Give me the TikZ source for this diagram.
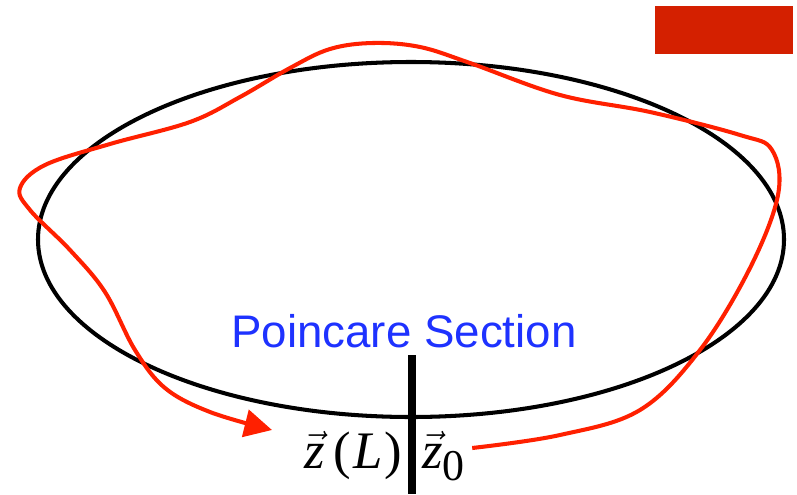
\documentclass[tikz,border=0pt]{standalone}
\usepackage{amsmath,amssymb}
\usepackage{fontspec}
\setmainfont{Liberation Serif}
\setsansfont{Liberation Sans}
\usetikzlibrary{arrows.meta, positioning, calc}
\definecolor{orbitred}{RGB}{255,32,0}
\definecolor{boxred}{RGB}{212,32,0}
\definecolor{labelblue}{RGB}{30,50,255}

\begin{document}
\begin{tikzpicture}[
    x=0.02cm, y=-0.02cm,
    cycle/.style={draw=black, line width=2.3pt},
    orbit/.style={draw=orbitred, line width=2.3pt, -{Triangle[length=0.55cm,width=0.55cm]}},
    section/.style={draw=black, line width=4pt},
    caption/.style={font=\sffamily\fontsize{26}{30}\selectfont, text=labelblue, inner sep=0pt},
    vec/.style={font=\fontsize{30}{34}\selectfont, inner sep=0pt}
]
\useasboundingbox (0,0) rectangle (797,494);

% Nodes
\fill [boxred] (655,6) rectangle (793,54);
\node (sec) [caption, anchor=base] at (404,347) {Poincare Section};
\node (zL) [vec, anchor=base east] at (402,468) {$\vec{\textit{z}}$\,(\kern1pt\textit{L}\kern1pt)};
\node (z0) [vec, anchor=base west] at (422,468) {$\vec{\textit{z}}$\raisebox{-7pt}{\fontsize{25}{30}\selectfont 0}};
\coordinate (cut) at (412,355);
\coordinate (tip) at (272,430);

% Cycle and section
\draw [cycle] (411,239.5) ellipse [x radius=373, y radius=177.5];
\draw [section] (cut) -- (cut |- 0,494);

% Orbit
\draw [orbit] plot [smooth, tension=0.6] coordinates {
    ([xshift=4pt]z0.east |- 0,448) (560,435) (640,410) (700,350) (750,268)
    (778,195) (772,150) (740,135) (650,112) (560,95) (470,63) (420,47)
    (373,43) (330,49) (290,68) (240,97) (190,122) (110,144) (45,165)
    (20,188) (30,210) (70,250) (105,292) (135,350) (165,388) (210,412) (tip)};

\end{tikzpicture}
\end{document}
